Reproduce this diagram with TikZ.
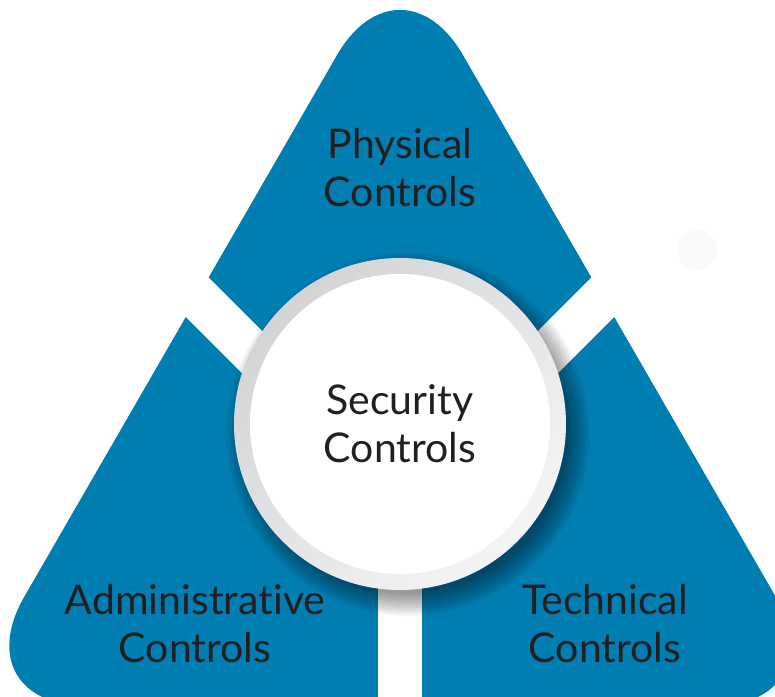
\documentclass[tikz,border=0pt]{standalone}
\usepackage{fontspec}
\setmainfont{Lato}[Ligatures=NoCommon]
\usetikzlibrary{positioning}
\definecolor{ctrlblue}{RGB}{0,126,178}
\definecolor{ringdark}{RGB}{210,212,214}
\definecolor{ringlight}{RGB}{244,244,244}
\definecolor{txtdark}{RGB}{35,31,32}

\begin{document}
\begin{tikzpicture}[x=1pt,y=-1pt, every node/.style={font=\fontsize{41}{48}\selectfont,text=txtdark,align=center},
		gap/.style={draw=white,line width=44pt}]
				\clip (0,0) rectangle (775,696);
				
				% Triangolo esterno
				\fill[ctrlblue,rounded corners=126pt] (400,706) -- (838.8,706) -- (400,-54) -- (-38.8,706) -- cycle;
				
				% Fessure bianche
				\coordinate (hub) at (400,500);
				\coordinate (gapl) at (100,200);
				\coordinate (gapr) at (700,200);
				\coordinate (gapb) at (400,720);
				\draw[gap] (hub) -- (gapl);
				\draw[gap] (hub) -- (gapr);
				\draw[gap] (hub) -- (gapb);
				
				% Punto chiaro
				\fill[black!2] (697,250) circle (20pt);
				
				% Ombra del cerchio
				\foreach \r in {160,162,...,182}
					\fill[black,opacity=0.04] (408,434) circle (\r pt);
				
				% Cerchio centrale
				\shade[top color=ringdark,bottom color=ringlight,shading angle=45] (400,424) circle (166pt);
				\node[circle,fill=white,minimum size=300pt,inner sep=0pt] (sec) at (400,424) {Security\\Controls};
				
				% Etichette
				\node (phys) at (400,168) {Physical\\Controls};
				\node (admin) at (195,624) {Administrative\\Controls};
				\node (tech) at (605,624) {Technical\\Controls};
			\end{tikzpicture}
\end{document}
